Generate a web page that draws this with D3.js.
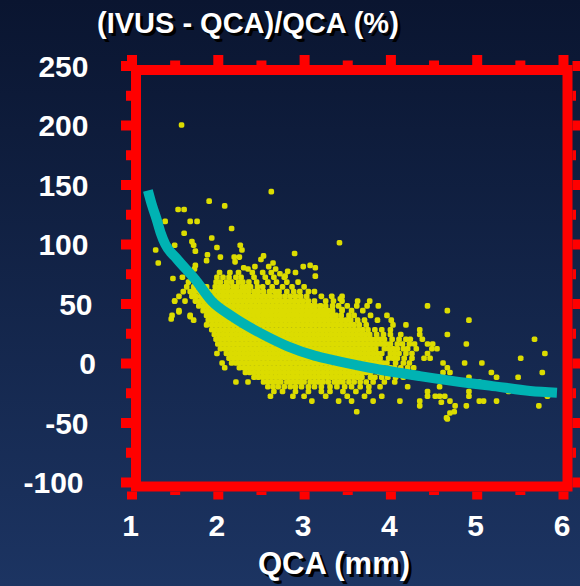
<!DOCTYPE html>
<html>
<head>
<meta charset="utf-8">
<script src="https://cdn.jsdelivr.net/npm/d3@7"></script>
<style>
  html, body { margin: 0; padding: 0; background: #0b1631; }
  svg { display: block; }
</style>
</head>
<body>
<svg id="chart" width="580" height="586"></svg>
<script>
// Axis ticks
const xMajor = [1, 2, 3, 4, 5, 6];
const xMinor = [1.5, 2.5, 3.5, 4.5, 5.5];
const yMajor = [250, 200, 150, 100, 50, 0, -50, -100];
const yMinor = [225, 175, 125, 75, 25, -25, -75];

// Smoothed trend: QCA (mm) vs relative difference (%)
const trendQCA = [1.19, 1.24, 1.29, 1.34, 1.39, 1.52, 1.74, 1.93, 2.17, 2.55, 2.81, 3.13, 3.30, 3.76, 4.34, 4.92, 5.15, 5.62, 5.93];
const trendPct = [145, 132, 121, 109, 100, 88, 70, 52, 39, 23, 14, 6, 3, -4, -11, -17, -19, -23.5, -25];

// Isolated measurements [QCA mm, difference %]
const isolated = [
  [1.58, 200], [2.62, 144], [1.90, 136], [2.08, 132], [1.54, 129], [1.61, 129], [1.39, 119], [1.68, 119],
  [1.76, 119], [2.16, 113], [1.61, 109], [1.93, 105], [1.70, 102], [1.72, 99], [3.41, 101], [1.50, 99],
  [2.26, 99], [2.28, 95], [1.28, 95], [1.74, 94], [1.99, 97], [1.88, 91], [2.03, 89], [2.19, 89],
  [2.25, 89], [1.87, 86], [2.20, 85], [2.53, 90], [2.89, 92], [1.31, 84], [1.74, 82], [1.73, 79],
  [2.30, 80], [2.43, 81], [2.50, 87], [2.64, 84], [2.59, 81], [2.67, 79], [2.35, 79], [2.72, 75],
  [2.81, 77], [2.78, 73], [2.99, 81], [3.07, 82], [3.13, 80], [3.13, 73], [1.48, 71], [1.59, 72],
  [1.50, 52], [1.62, 52], [1.46, 37], [1.68, 39], [1.55, 43], [3.42, 54], [3.44, 45],
  [4.59, -33], [4.69, -42], [4.65, -46]
];

// Bulk of the measurements, one row per difference level: [difference %, QCA mm ...]
const cloudRows = [
  [76, 2.02, 2.14, 2.24, 2.40, 2.52, 2.62, 2.90],
  [72, 1.70, 1.99, 2.06, 2.13, 2.21, 2.27, 2.42, 2.55, 2.65, 2.77],
  [68, 1.66, 1.78, 1.98, 2.03, 2.10, 2.16, 2.24, 2.29, 2.36, 2.45, 2.58, 2.68, 2.80, 2.93],
  [64, 1.64, 1.72, 1.80, 1.87, 1.97, 2.02, 2.07, 2.12, 2.18, 2.22, 2.28, 2.33, 2.38, 2.46, 2.52, 2.63, 2.75, 2.86, 3.00],
  [60, 1.60, 1.68, 1.73, 1.79, 1.84, 1.90, 1.96, 2.01, 2.06, 2.11, 2.16, 2.21, 2.26, 2.31, 2.36, 2.42, 2.47, 2.53, 2.60, 2.66, 2.71, 2.80, 2.88, 2.95, 3.05, 3.12],
  [56, 1.55, 1.70, 1.75, 1.81, 1.86, 1.91, 1.96, 2.01, 2.06, 2.11, 2.16, 2.21, 2.26, 2.31, 2.36, 2.41, 2.46, 2.51, 2.56, 2.61, 2.67, 2.72, 2.78, 2.84, 2.90, 2.96, 3.03, 3.20, 3.32, 3.44],
  [52, 1.50, 1.74, 1.79, 1.84, 1.89, 1.94, 1.99, 2.04, 2.09, 2.14, 2.19, 2.24, 2.29, 2.34, 2.39, 2.44, 2.49, 2.54, 2.59, 2.64, 2.69, 2.74, 2.79, 2.84, 2.89, 2.94, 2.99, 3.05, 3.12, 3.25, 3.34, 3.44, 3.62, 3.76],
  [48, 1.78, 1.83, 1.88, 1.93, 1.98, 2.03, 2.08, 2.13, 2.18, 2.23, 2.28, 2.33, 2.38, 2.43, 2.48, 2.53, 2.58, 2.63, 2.68, 2.73, 2.78, 2.83, 2.88, 2.93, 2.98, 3.03, 3.08, 3.13, 3.19, 3.25, 3.33, 3.40, 3.50, 3.61, 3.73, 3.86, 4.43],
  [44, 1.55, 1.83, 1.88, 1.93, 1.98, 2.03, 2.08, 2.13, 2.18, 2.23, 2.28, 2.33, 2.38, 2.43, 2.48, 2.53, 2.58, 2.63, 2.68, 2.73, 2.78, 2.83, 2.88, 2.93, 2.98, 3.03, 3.08, 3.13, 3.18, 3.23, 3.28, 3.33, 3.44, 3.55, 3.68, 4.66],
  [40, 1.47, 1.68, 1.87, 1.92, 1.97, 2.02, 2.07, 2.12, 2.17, 2.22, 2.27, 2.32, 2.37, 2.42, 2.47, 2.52, 2.57, 2.62, 2.67, 2.72, 2.77, 2.82, 2.87, 2.92, 2.97, 3.02, 3.07, 3.12, 3.17, 3.22, 3.27, 3.32, 3.37, 3.43, 3.52, 3.58, 3.77, 3.96],
  [36, 1.72, 1.89, 1.94, 1.99, 2.04, 2.09, 2.14, 2.19, 2.24, 2.29, 2.34, 2.39, 2.44, 2.49, 2.54, 2.59, 2.64, 2.69, 2.74, 2.79, 2.84, 2.89, 2.94, 2.99, 3.04, 3.09, 3.14, 3.19, 3.24, 3.29, 3.34, 3.39, 3.44, 3.49, 3.54, 3.62, 3.70, 3.85, 4.01, 4.91],
  [32, 1.87, 1.93, 1.98, 2.03, 2.08, 2.13, 2.18, 2.23, 2.28, 2.33, 2.38, 2.43, 2.48, 2.53, 2.58, 2.63, 2.68, 2.73, 2.78, 2.83, 2.88, 2.93, 2.98, 3.03, 3.08, 3.13, 3.18, 3.23, 3.28, 3.33, 3.38, 3.43, 3.48, 3.53, 3.58, 3.64, 3.72, 4.03, 4.18],
  [28, 1.93, 1.98, 2.03, 2.08, 2.13, 2.18, 2.23, 2.28, 2.33, 2.38, 2.43, 2.48, 2.53, 2.58, 2.63, 2.68, 2.73, 2.78, 2.83, 2.88, 2.93, 2.98, 3.03, 3.08, 3.13, 3.18, 3.23, 3.28, 3.33, 3.38, 3.43, 3.48, 3.53, 3.58, 3.63, 3.68, 3.74, 3.82, 3.90, 4.00, 4.34],
  [24, 1.96, 2.01, 2.06, 2.11, 2.16, 2.21, 2.26, 2.31, 2.36, 2.41, 2.46, 2.51, 2.56, 2.61, 2.66, 2.71, 2.76, 2.81, 2.86, 2.91, 2.96, 3.01, 3.06, 3.11, 3.16, 3.21, 3.26, 3.31, 3.36, 3.41, 3.46, 3.51, 3.56, 3.61, 3.66, 3.71, 3.76, 3.84, 3.92, 4.00, 4.12, 4.34, 4.66],
  [20, 1.98, 2.03, 2.08, 2.13, 2.18, 2.23, 2.28, 2.33, 2.38, 2.43, 2.48, 2.53, 2.58, 2.63, 2.68, 2.73, 2.78, 2.83, 2.88, 2.93, 2.98, 3.03, 3.08, 3.13, 3.18, 3.23, 3.28, 3.33, 3.38, 3.43, 3.48, 3.53, 3.58, 3.63, 3.68, 3.73, 3.78, 3.83, 3.88, 3.93, 4.02, 4.10, 4.18, 4.23, 4.37, 5.67],
  [16, 2.00, 2.05, 2.10, 2.15, 2.20, 2.25, 2.30, 2.35, 2.40, 2.45, 2.50, 2.55, 2.60, 2.65, 2.70, 2.75, 2.80, 2.85, 2.90, 2.95, 3.00, 3.05, 3.10, 3.15, 3.20, 3.25, 3.30, 3.35, 3.40, 3.45, 3.50, 3.55, 3.60, 3.65, 3.70, 3.75, 3.80, 3.85, 3.90, 3.95, 4.00, 4.08, 4.14, 4.22, 4.28, 4.43, 4.49, 4.88],
  [12, 2.03, 2.08, 2.13, 2.18, 2.23, 2.28, 2.33, 2.38, 2.43, 2.48, 2.53, 2.58, 2.63, 2.68, 2.73, 2.78, 2.83, 2.88, 2.93, 2.98, 3.03, 3.08, 3.13, 3.18, 3.23, 3.28, 3.33, 3.38, 3.43, 3.48, 3.53, 3.58, 3.63, 3.68, 3.73, 3.78, 3.83, 3.93, 3.98, 4.03, 4.08, 4.15, 4.20, 4.30, 4.48, 4.54],
  [8, 1.99, 2.10, 2.15, 2.20, 2.25, 2.30, 2.35, 2.40, 2.45, 2.50, 2.55, 2.60, 2.65, 2.70, 2.75, 2.80, 2.85, 2.90, 2.95, 3.00, 3.05, 3.10, 3.15, 3.20, 3.25, 3.30, 3.35, 3.40, 3.45, 3.50, 3.55, 3.60, 3.65, 3.70, 3.75, 3.80, 3.85, 3.90, 4.00, 4.05, 4.10, 4.18, 4.25, 4.43, 5.79],
  [4, 2.13, 2.18, 2.23, 2.28, 2.33, 2.38, 2.43, 2.48, 2.53, 2.58, 2.63, 2.68, 2.73, 2.78, 2.83, 2.88, 2.93, 2.98, 3.03, 3.08, 3.13, 3.18, 3.23, 3.28, 3.33, 3.38, 3.43, 3.48, 3.53, 3.58, 3.63, 3.68, 3.73, 3.78, 3.83, 3.88, 3.98, 4.03, 4.08, 4.16, 4.25, 4.39, 4.46, 5.51],
  [0, 2.05, 2.16, 2.21, 2.26, 2.31, 2.36, 2.41, 2.46, 2.51, 2.56, 2.61, 2.66, 2.71, 2.76, 2.81, 2.86, 2.91, 2.96, 3.01, 3.06, 3.11, 3.16, 3.21, 3.26, 3.31, 3.36, 3.41, 3.46, 3.51, 3.56, 3.61, 3.66, 3.71, 3.76, 3.81, 3.86, 3.91, 3.96, 4.06, 4.15, 4.22, 4.61, 4.86, 5.06],
  [-4, 2.08, 2.25, 2.30, 2.35, 2.40, 2.45, 2.50, 2.55, 2.60, 2.65, 2.70, 2.75, 2.80, 2.85, 2.90, 2.95, 3.00, 3.05, 3.10, 3.15, 3.20, 3.25, 3.30, 3.35, 3.40, 3.45, 3.50, 3.55, 3.60, 3.65, 3.70, 3.75, 3.80, 3.85, 3.90, 4.00, 4.05, 4.12, 4.20, 4.27, 4.66],
  [-8, 2.32, 2.37, 2.42, 2.47, 2.52, 2.57, 2.62, 2.67, 2.72, 2.77, 2.82, 2.87, 2.92, 2.97, 3.02, 3.07, 3.12, 3.17, 3.22, 3.27, 3.32, 3.37, 3.42, 3.47, 3.52, 3.57, 3.62, 3.67, 3.72, 3.77, 3.87, 3.92, 4.02, 4.10, 4.18, 4.61, 4.69, 5.17, 5.76],
  [-12, 2.42, 2.47, 2.52, 2.57, 2.62, 2.67, 2.72, 2.77, 2.82, 2.87, 2.92, 2.97, 3.02, 3.07, 3.12, 3.17, 3.22, 3.27, 3.32, 3.37, 3.42, 3.47, 3.52, 3.57, 3.62, 3.67, 3.77, 3.82, 3.90, 3.97, 4.06, 4.15, 4.91, 5.23, 5.48],
  [-16, 2.21, 2.35, 2.53, 2.58, 2.63, 2.68, 2.73, 2.80, 2.85, 2.90, 2.95, 3.00, 3.07, 3.12, 3.17, 3.22, 3.28, 3.35, 3.40, 3.45, 3.52, 3.58, 3.65, 3.72, 3.80, 3.93, 4.05, 5.03],
  [-20, 2.58, 2.64, 2.70, 2.77, 2.84, 2.90, 2.97, 3.05, 3.12, 3.20, 3.30, 3.38, 3.47, 3.55, 3.65, 3.75, 3.88, 4.20, 4.57],
  [-24, 2.65, 2.75, 2.90, 3.05, 3.20, 3.30, 3.45, 3.60, 3.75, 4.43, 4.91, 5.37],
  [-28, 2.61, 2.87, 3.00, 3.25, 3.50, 3.70, 3.90, 4.43, 4.52, 4.57, 4.63, 4.91, 5.82],
  [-32, 3.09, 3.40, 3.55, 3.80, 4.11, 4.34, 4.69, 5.03, 5.08, 5.23],
  [-36, 4.34, 4.75, 4.88, 5.72],
  [-41, 3.61, 4.74],
  [-47, 4.66]
];

const W = 580, H = 586;
const svg = d3.select("#chart");
const FONT = "'Liberation Sans', Arial, Helvetica, sans-serif";
const RED = "#ff0000";

// Background
const defs = svg.append("defs");
const bg = defs.append("linearGradient").attr("id", "bg")
  .attr("x1", 0).attr("y1", 0).attr("x2", 0).attr("y2", 1);
bg.append("stop").attr("offset", "0%").attr("stop-color", "#0a1530");
bg.append("stop").attr("offset", "100%").attr("stop-color", "#1c3462");
svg.append("rect").attr("width", W).attr("height", H).attr("fill", "url(#bg)");

// Scales
const x = d3.scaleLinear().domain([1, 6]).range([131.5, 563]);
const y = d3.scaleLinear().domain([-100, 250]).range([482, 65.5]);

// Plot frame (thick red border, sits slightly right/below the tick grid)
const off = 4.5, frameW = 10;
const fx0 = x(1) + off, fx1 = x(6) + off, fy0 = y(250) + off, fy1 = y(-100) + off;
svg.append("rect")
  .attr("x", fx0).attr("y", fy0)
  .attr("width", fx1 - fx0).attr("height", fy1 - fy0)
  .attr("fill", "none").attr("stroke", RED).attr("stroke-width", frameW);

// Tick marks via d3 axes, drawn as chunky red blocks outside the frame
function ticks(axis, transform, values, size, labels) {
  const g = svg.append("g").attr("transform", transform)
    .call(axis.tickValues(values).tickSize(size).tickFormat(labels ? (d => String(d)) : ""));
  g.select(".domain").remove();
  g.selectAll(".tick line")
    .attr("stroke", RED).attr("stroke-width", 10).attr("stroke-linecap", "butt");
  return g;
}
const outerTop = fy0 - frameW / 2, outerBottom = fy1 + frameW / 2;
const outerLeft = fx0 - frameW / 2, outerRight = fx1 + frameW / 2;

ticks(d3.axisTop(x), `translate(0,${outerTop})`, xMajor, 10, false);
ticks(d3.axisTop(x), `translate(0,${outerTop})`, xMinor, 4.5, false);
ticks(d3.axisRight(y), `translate(${outerRight},0)`, yMajor, 9, false);
ticks(d3.axisRight(y), `translate(${outerRight},0)`, yMinor, 3.5, false);
ticks(d3.axisBottom(x), `translate(0,${outerBottom})`, xMinor, 3.5, false);
ticks(d3.axisLeft(y), `translate(${outerLeft},0)`, yMinor, 5, false);

const gx = ticks(d3.axisBottom(x).tickPadding(15), `translate(0,${outerBottom})`, xMajor, 8, true);
gx.attr("font-family", FONT).attr("font-size", 30).attr("font-weight", "bold");
gx.selectAll(".tick text").attr("fill", "#ffffff").attr("dx", -1.5);

const gy = ticks(d3.axisLeft(y).tickPadding(32.5), `translate(${outerLeft},0)`, yMajor, 10, true);
gy.attr("font-family", FONT).attr("font-size", 30).attr("font-weight", "bold");
const labelNudge = { 0: 7.5, 50: 4, "-100": -5 };
gy.selectAll(".tick text")
  .attr("fill", "#ffffff").attr("dy", "0.36em")
  .attr("dx", d => labelNudge[d] || 0);

// Scatter points
const points = isolated.map(([q, p]) => ({ q, p }));
cloudRows.forEach(row => {
  const p = row[0];
  row.slice(1).forEach(q => points.push({ q, p }));
});
const dot = 5.6;
svg.append("g").selectAll("rect").data(points).join("rect")
  .attr("x", d => x(d.q) - dot / 2).attr("y", d => y(d.p) - dot / 2)
  .attr("width", dot).attr("height", dot).attr("rx", 1.8)
  .attr("fill", "#dcdc00");

// Trend curve
const trend = trendQCA.map((q, i) => [q, trendPct[i]]);
svg.append("path")
  .attr("d", d3.line().curve(d3.curveMonotoneX).x(d => x(d[0])).y(d => y(d[1]))(trend))
  .attr("fill", "none").attr("stroke", "#00b3b3").attr("stroke-width", 10)
  .attr("stroke-linecap", "butt").attr("stroke-linejoin", "round");

// Titles with drop shadow
function shadowText(txt, tx, ty, size, anchor) {
  const g = svg.append("g").attr("font-family", FONT).attr("font-weight", "bold")
    .attr("font-size", size).attr("text-anchor", anchor);
  g.append("text").attr("x", tx + 3).attr("y", ty + 3).attr("fill", "#000000").text(txt);
  g.append("text").attr("x", tx).attr("y", ty).attr("fill", "#ffffff").text(txt);
}
shadowText("(IVUS - QCA)/QCA (%)", 97, 32.5, 29, "start");
shadowText("QCA (mm)", 334, 574, 31, "middle");
</script>
</body>
</html>
